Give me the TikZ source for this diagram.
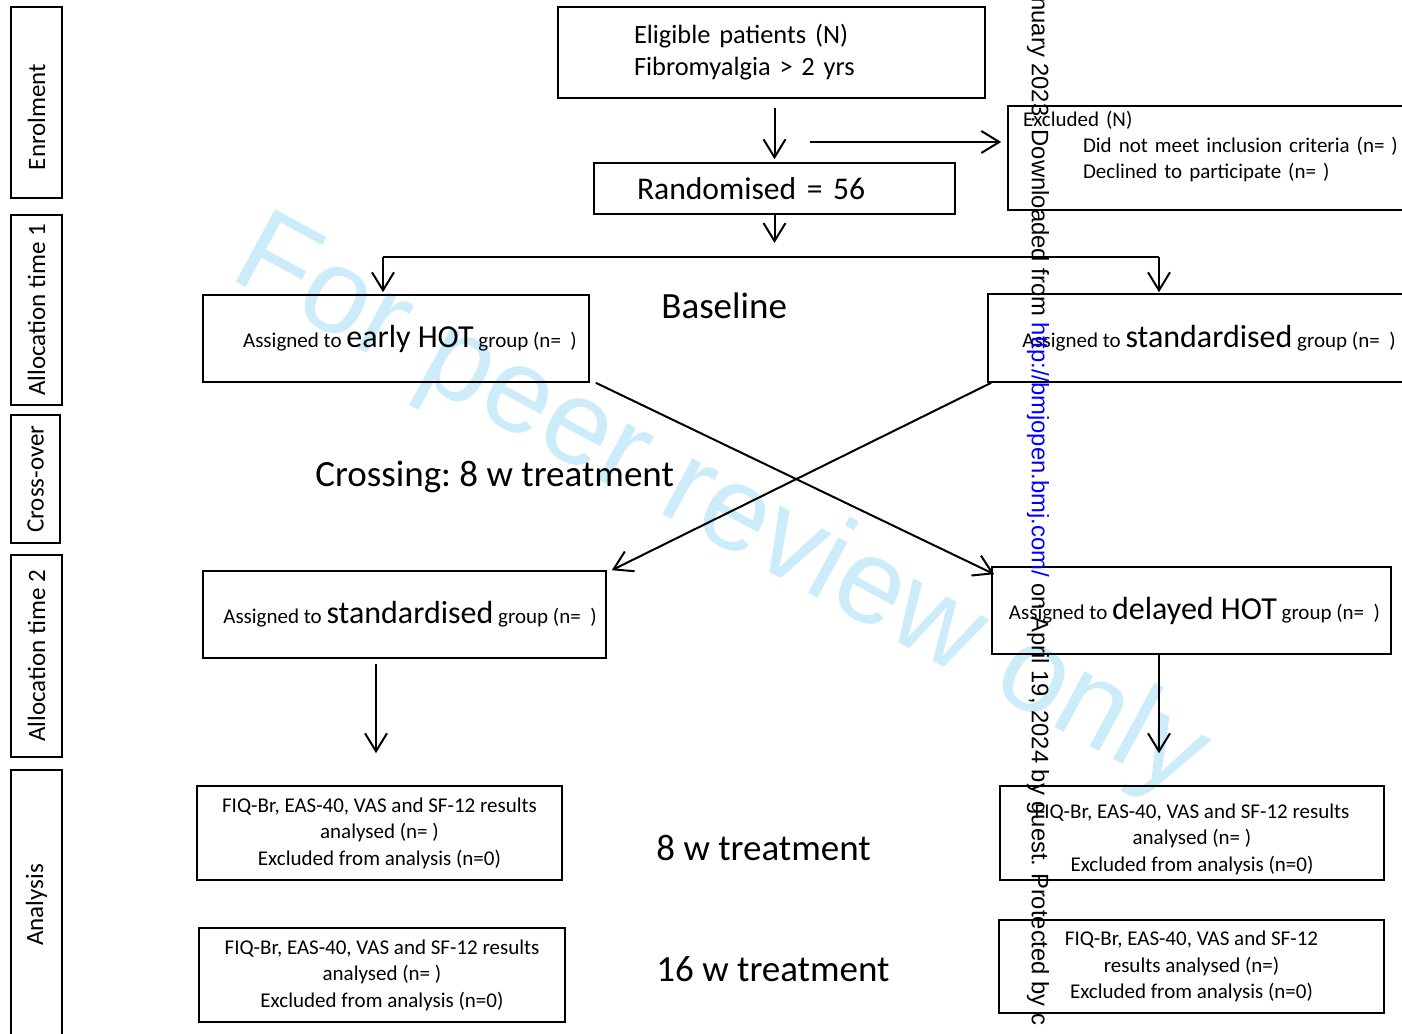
\documentclass[tikz,border=0pt]{standalone}
\usepackage{fontspec}
\setmainfont{Carlito}
\newfontfamily\arialfont{Liberation Sans}
\usepackage{tikz}
\usetikzlibrary{arrows.meta,positioning}

\definecolor{wmblue}{RGB}{204,236,250}
\definecolor{linkblue}{RGB}{0,0,255}
\newcommand{\grp}[1]{{\fontsize{16}{19}\selectfont #1}}
\frenchspacing

\begin{document}
\begin{tikzpicture}[x=0.5pt, y=-0.5pt]
	\tikzstyle{Phase}	= [draw, line width=0.75pt, rotate=90, minimum height=25.5pt, inner sep=0pt, font=\fontsize{12.5}{15}\selectfont]
	\tikzstyle{Box}		= [draw, line width=0.8pt, inner sep=0pt]
	\tikzstyle{Txt}		= [font=\fontsize{10.5}{13.2}\selectfont]
	\tikzstyle{Label}	= [anchor=west, inner sep=0pt, font=\fontsize{18.5}{22}\selectfont]
	\tikzstyle{Flow}	= [-{Straight Barb[length=9pt, width=11pt]}, line width=1pt]
	\tikzstyle{Bar}		= [line width=1.4pt]

	\useasboundingbox (0, 0) rectangle (1402, 1033);

	\node (wm) at (720, 510) [rotate=-28.5, text=wmblue, font=\arialfont\fontsize{60}{64}\selectfont] {For peer review only};

	\node (enrol) at (36.5, 102.5) [Phase, minimum width=95.5pt] {Enrolment\hspace*{14.5pt}};
	\node (alloc1) at (36.5, 310) [Phase, minimum width=95pt] {Allocation time 1};
	\node (cross) at (35.5, 479) [Phase, minimum width=64pt, minimum height=24.5pt] {Cross-over};
	\node (alloc2) at (36.5, 656) [Phase, minimum width=101pt] {Allocation time 2};
	\node (analysis) at (36.5, 905) [Phase, minimum width=135pt] {Analysis};

	\node (elig) at (771.5, 52.5) [Box, minimum height=45.5pt, text width=137.5pt, inner xsep=38pt, align=left, font=\fontsize{13.2}{16}\selectfont] {Eligible patients (N)\\Fibromyalgia > 2 yrs};
	\node (rand) at (774.5, 188.5) [Box, minimum height=25.5pt, text width=137.5pt, inner xsep=21.5pt, align=left, font=\fontsize{15.8}{19}\selectfont] {Randomised = 56};
	\node (excl) at (1214, 158) [Box, Txt, minimum height=52pt, text width=191pt, inner xsep=7.5pt, align=left] {Excluded (N)\\\hspace*{30pt}Did not meet inclusion criteria (n= )\\\hspace*{30pt}Declined to participate (n= )\\\mbox{}};

	\node (early) at (396, 338.5) [Box, Txt, minimum width=193pt, minimum height=43.5pt] {\hspace*{14pt}Assigned to \grp{early HOT} group (n=~~)};
	\node (stdA) at (1209, 338) [Box, Txt, minimum width=221pt, minimum height=44pt] {Assigned to \grp{standardised} group (n=~~)};
	\node (stdB) at (404.5, 614.5) [Box, Txt, minimum width=201.5pt, minimum height=43.5pt] {\hspace*{5.5pt}Assigned to \grp{standardised} group (n=~~)};
	\node (delay) at (1191.5, 610.5) [Box, Txt, minimum width=199.5pt, minimum height=43.5pt] {\hspace*{3pt}Assigned to \grp{delayed HOT} group (n=~~)};

	\node (resA1) at (379.5, 833) [Box, Txt, minimum width=182.5pt, minimum height=47pt, align=center] {FIQ-Br, EAS-40, VAS and SF-12 results\\analysed (n= )\\Excluded from analysis (n=0)};
	\node (resA2) at (382, 975) [Box, Txt, minimum width=183pt, minimum height=47pt, align=center] {FIQ-Br, EAS-40, VAS and SF-12 results\\analysed (n= )\\Excluded from analysis (n=0)};
	\node (resB1) at (1192, 833) [Box, Txt, minimum width=192pt, minimum height=47pt, align=center] {\rule{0pt}{13.5pt}FIQ-Br, EAS-40, VAS and SF-12 results\\analysed (n= )\\Excluded from analysis (n=0)};
	\node (resB2) at (1191.5, 966.5) [Box, Txt, minimum width=192.5pt, minimum height=46.5pt, align=center] {FIQ-Br, EAS-40, VAS and SF-12\\results analysed (n=)\\Excluded from analysis (n=0)};

	\node (base) at (661, 306) [Label] {Baseline};
	\node (crosslbl) at (315, 477) [Label] {Crossing: 8 w treatment};
	\node (w8) at (656, 848) [Label] {8 w treatment};
	\node (w16) at (656, 969) [Label] {16 w treatment};

	\coordinate (side) at (810, 142);
	\coordinate (fork) at (774.5, 257);
	\coordinate (forkL) at (383, 257);
	\coordinate (forkR) at (1159, 257);
	\coordinate (dropL) at (376, 664);
	\coordinate (dropR) at (1159, 654);

	\draw [Flow, shorten <=4.5pt, shorten >=1.5pt] (elig.south -| rand.north) to (rand.north);
	\draw [Flow, shorten >=3pt] (side) to (side -| excl.west);
	\draw [Flow, shorten >=7pt] (rand.south) to (fork);
	\draw [Bar] (forkL) to (forkR);
	\draw [Flow, shorten >=1pt] (forkL) to (forkL |- early.north);
	\draw [Flow, shorten >=0.5pt] (forkR) to (forkR |- stdA.north);
	\draw [Flow] ([xshift=3pt]early.south east) to ([shift={(1.5pt,-4pt)}]delay.north west);
	\draw [Flow] ([xshift=2pt]stdA.south west) to ([xshift=2.5pt]stdB.north east);
	\draw [Flow, shorten >=16pt] (dropL) to (dropL |- resA1.north);
	\draw [Flow, shorten >=16pt] (dropR) to (dropR |- resB1.north);

	\node (stamp) at (1038, -3) [anchor=west, rotate=-90, inner sep=0pt, font=\arialfont\fontsize{11.9}{14}\selectfont] {nuary 2023. Downloaded from \textcolor{linkblue}{http://bmjopen.bmj.com/} on April 19, 2024 by guest. Protected by c};
\end{tikzpicture}
\end{document}
